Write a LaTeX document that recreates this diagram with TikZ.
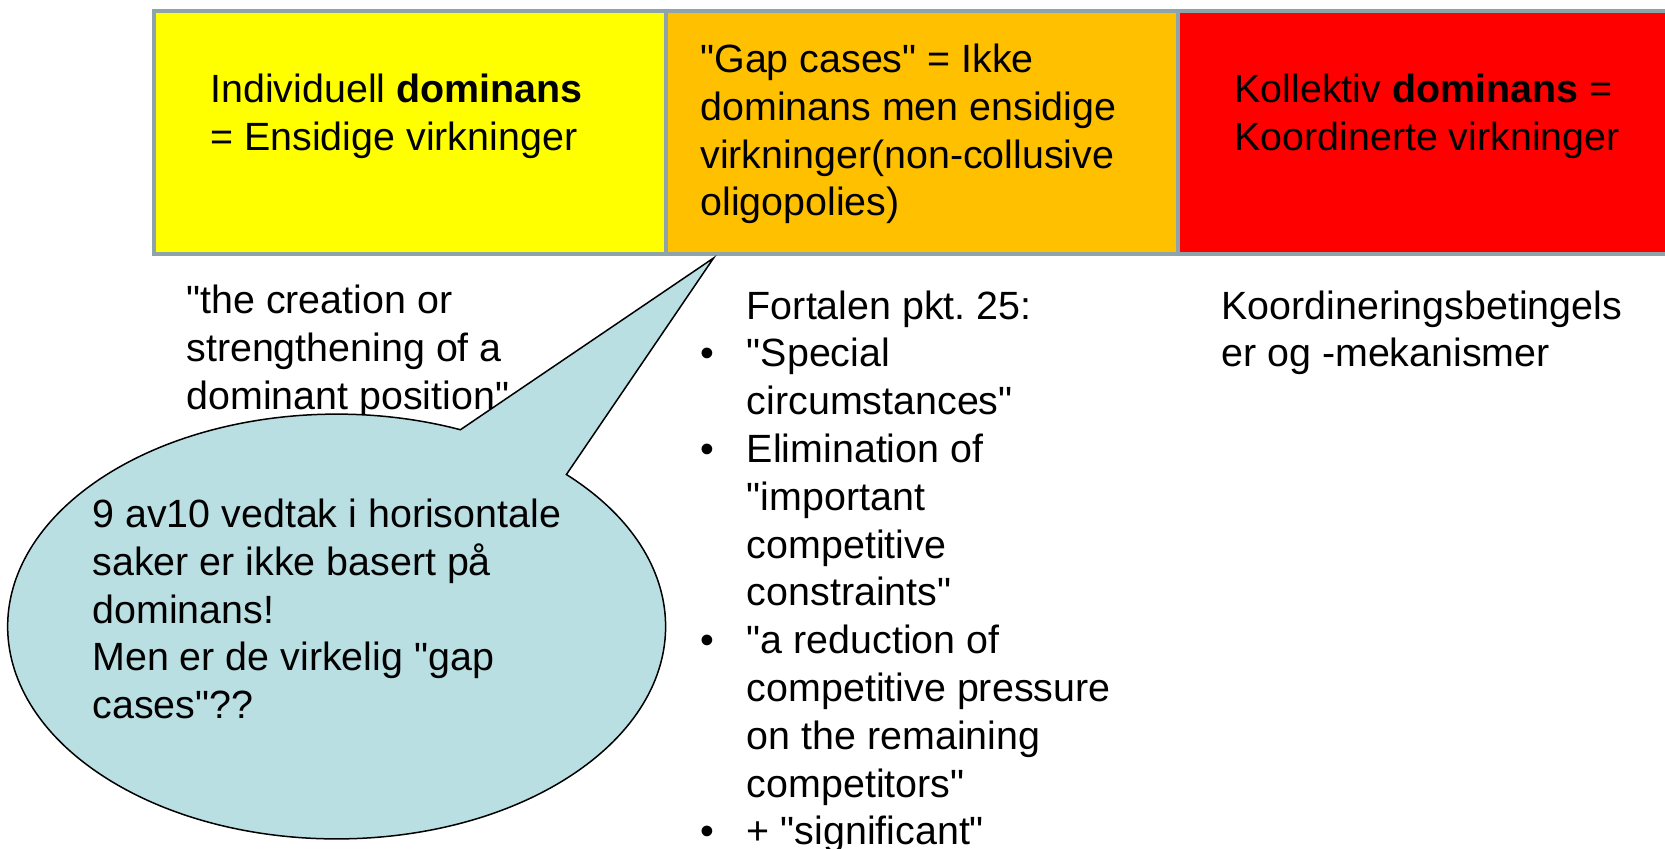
\documentclass[tikz,border=0pt]{standalone}
\usepackage{fontspec}
\setmainfont{Liberation Sans}[Ligatures=TeXOff]
\frenchspacing
\definecolor{boxline}{RGB}{142,164,170}
\definecolor{cellyellow}{RGB}{255,255,0}
\definecolor{cellred}{RGB}{255,0,0}
\definecolor{gaporange}{RGB}{255,192,0}
\definecolor{bubblefill}{RGB}{185,223,227}
\newcommand{\firststrut}{\rule{0pt}{16pt}}
\newcommand{\bul}{\llap{\textbullet\hspace{16.25pt}}}
\begin{document}
\begin{tikzpicture}[x=0.5pt,y=-0.5pt,
  cellbox/.style={draw=boxline, line width=2pt, anchor=north west, inner sep=0pt,
    minimum width=256pt, minimum height=121.75pt},
  txt/.style={anchor=north west, inner sep=0pt, align=left,
    font=\fontsize{19.7pt}{23.9pt}\selectfont},
  bubble/.style={draw=black, line width=0.75pt, fill=bubblefill, line join=miter}]
\useasboundingbox (0,0) rectangle (1665,848);
\clip (0,0) rectangle (1665,848);

% top row of boxes
\node[cellbox, fill=cellyellow] (b1) at (152,8.5) {};
\node[cellbox, fill=gaporange] (b2) at (664,8.5) {};
\node[cellbox, fill=cellred] (b3) at (1176,8.5) {};

\node[txt] (t1) at (210,70) {\firststrut Individuell \textbf{dominans}\\= Ensidige virkninger};
\node[txt] (t2) at (700,40) {\firststrut "Gap cases" = Ikke\\dominans men ensidige\\virkninger(non-collusive\\oligopolies)};
\node[txt] (t3) at (1234,70) {\firststrut Kollektiv \textbf{dominans} =\\Koordinerte virkninger};

% texts below
\node[txt] (q1) at (186,281) {\firststrut "the creation or\\strengthening of a\\dominant position"};
\node[txt] (q2) at (746.5,286.6) {\firststrut Fortalen pkt. 25:\\
\bul"Special\\
circumstances"\\
\bul Elimination of\\
"important\\
competitive\\
constraints"\\
\bul"a reduction of\\
competitive pressure\\
on the remaining\\
competitors"\\
\bul+ "significant"};
\node[txt] (q3) at (1221,286.6) {\firststrut Koordineringsbetingels\\er og -mekanismer};

% callout bubble
\coordinate (tip) at (713.6,258);
\coordinate (rb) at (566.4,474.5);
\path[bubble] (tip) -- (rb) arc[start angle=-45.7, end angle=292.1, x radius=329, y radius=212.4] -- cycle;
\node[txt] (ct) at (92,495) {\firststrut 9 av10 vedtak i horisontale\\saker er ikke basert på\\dominans!\\Men er de virkelig "gap\\cases"??};
\end{tikzpicture}
\end{document}
